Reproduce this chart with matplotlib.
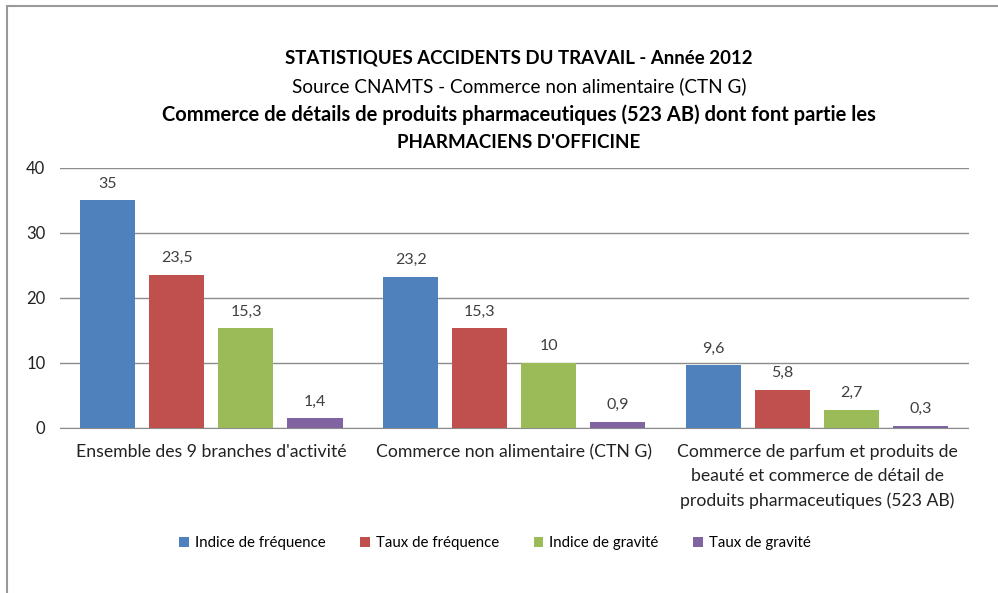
import numpy as np
import matplotlib
matplotlib.use("Agg")
import matplotlib.pyplot as plt
from matplotlib.patches import Rectangle

# Données
categories = [
    "Ensemble des 9 branches d'activité",
    "Commerce non alimentaire (CTN G)",
    "Commerce de parfum et produits de\nbeauté et commerce de détail de\nproduits pharmaceutiques (523 AB)",
]
series_names = ["Indice de fréquence", "Taux de fréquence", "Indice de gravité", "Taux de gravité"]
indice_frequence = [35, 23.2, 9.6]
taux_frequence = [23.5, 15.3, 5.8]
indice_gravite = [15.3, 10, 2.7]
taux_gravite = [1.4, 0.9, 0.3]
yticks = [0, 10, 20, 30, 40]

colors = ["#4F81BD", "#C0504D", "#9BBB59", "#8064A2"]
plt.rcParams["font.family"] = ["Lato", "DejaVu Sans"]

fig = plt.figure(figsize=(9.98, 5.93), dpi=100)
ax = fig.add_axes([60 / 998, 1 - 427.5 / 593, 908.5 / 998, 259.5 / 593])

# cadre gris du graphique
fig.patches.append(Rectangle((7 / 998, -0.1), 1.1, 1 - 6 / 593 + 0.1, transform=fig.transFigure,
                             fill=False, edgecolor="#9a9a9a", linewidth=1.5))

x = np.arange(len(categories))
w = 0.182
step = 0.228
all_series = [indice_frequence, taux_frequence, indice_gravite, taux_gravite]
for i, (vals, name) in enumerate(zip(all_series, series_names)):
    pos = x + (i - 1.5) * step
    bars = ax.bar(pos, vals, width=w, color=colors[i], label=name, zorder=3)
    for b, v in zip(bars, vals):
        ax.annotate(f"{v:g}".replace(".", ","), (b.get_x() + b.get_width() / 2, v),
                    xytext=(0, 7), textcoords="offset points", ha="center", va="bottom",
                    fontsize=11.5, color="#404040")

ax.set_xlim(-0.5, 2.5)
ax.set_ylim(0, 40)
ax.set_yticks(yticks)
ax.set_yticklabels([str(t) for t in yticks], fontsize=12, color="#222222")
ax.set_xticks(x)
ax.set_xticklabels(categories, fontsize=12.7, color="#222222", linespacing=1.6, va="top")
ax.tick_params(axis="x", length=0, pad=12)
ax.tick_params(axis="y", length=0, pad=10.5)
ax.grid(axis="y", color="#8c8c8c", linewidth=1, zorder=0)
for s in ["top", "right", "left"]:
    ax.spines[s].set_visible(False)
ax.spines["bottom"].set_color("#8c8c8c")

xc = 519 / 998
fig.text(xc, 1 - 58 / 593, "STATISTIQUES ACCIDENTS DU TRAVAIL - Année 2012",
         ha="center", va="center", fontsize=13.4, fontweight="bold")
fig.text(xc, 1 - 86 / 593, "Source CNAMTS - Commerce non alimentaire (CTN G)",
         ha="center", va="center", fontsize=13.6)
fig.text(xc, 1 - 115 / 593, "Commerce de détails de produits pharmaceutiques (523 AB) dont font partie les",
         ha="center", va="center", fontsize=14.5, fontweight="bold")
fig.text(xc, 1 - 143 / 593, "PHARMACIENS D'OFFICINE",
         ha="center", va="center", fontsize=13.5, fontweight="bold")

fig.legend(loc="center", bbox_to_anchor=(495 / 998, 1 - 543 / 593), ncol=4, frameon=False,
           fontsize=10.8, handlelength=0.65, handleheight=0.65, handletextpad=0.4, columnspacing=2.3)

fig.savefig("out.png", dpi=100)
plt.close(fig)
